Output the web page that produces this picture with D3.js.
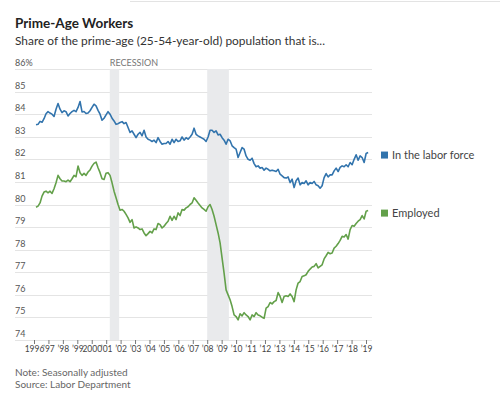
<!DOCTYPE html>
<html><head><meta charset="utf-8">
<script src="https://cdn.jsdelivr.net/npm/d3@7"></script>
<style>
body{margin:0;background:#fff;}
svg{display:block;font-family:Lato,"Noto Sans",sans-serif;}
</style>
</head><body>
<svg id="chart" width="500" height="404"></svg>
<script>
// Readings taken roughly every 1.66 months, Feb 1996 – Jan 2019
const laborForce = [
83.53,83.55,83.68,83.64,83.80,84.02,84.11,84.05,84.00,83.90,
84.22,84.47,84.22,84.07,84.15,84.11,83.92,84.03,84.11,84.17,
84.11,84.30,84.56,84.10,84.12,84.03,84.05,84.15,84.30,84.44,
84.37,84.17,84.00,83.73,83.82,83.97,84.11,84.00,83.82,83.70,
83.55,83.58,83.63,83.67,83.58,83.63,83.41,83.19,83.26,83.11,
82.96,83.11,83.19,83.04,83.29,82.99,82.89,82.85,82.79,82.85,
82.74,82.96,82.79,82.67,82.70,82.70,82.79,82.67,82.89,82.74,
82.89,82.79,82.82,82.99,82.85,82.96,82.89,82.99,83.11,83.38,
83.11,83.04,82.99,82.94,82.89,82.79,82.99,83.29,83.29,83.19,
83.26,83.08,83.11,82.96,82.85,82.67,82.89,82.82,82.60,82.52,
82.45,82.08,82.30,82.52,82.45,82.15,82.00,81.96,82.05,81.81,
81.67,81.71,81.61,81.64,81.52,81.61,81.56,81.49,81.52,81.49,
81.46,81.56,81.34,81.27,81.19,81.17,81.22,80.97,81.12,80.75,
81.05,81.17,80.87,80.97,80.93,81.05,80.87,80.97,80.93,81.02,
80.87,80.83,80.72,80.83,81.19,81.37,81.22,81.31,81.31,81.49,
81.61,81.46,81.64,81.71,81.67,81.76,81.67,81.86,81.76,82.00,
82.20,81.96,82.15,82.08,81.86,82.26,82.30];

const employed = [
79.88,79.93,80.07,80.37,80.55,80.59,80.52,80.59,80.49,80.70,
80.96,81.29,81.14,81.04,81.04,81.01,81.08,81.01,81.14,81.29,
81.23,81.70,81.41,81.29,81.38,81.29,81.44,81.53,81.70,81.82,
81.88,81.63,81.41,81.14,81.11,81.38,81.41,81.29,80.96,80.59,
80.30,80.00,79.75,79.78,79.70,79.56,79.41,79.21,79.33,78.96,
79.01,78.96,78.89,78.92,78.74,78.62,78.71,78.81,78.74,78.92,
78.89,79.16,79.11,78.96,79.04,79.16,79.26,79.48,79.30,79.48,
79.33,79.63,79.51,79.78,79.75,79.85,79.90,80.00,80.07,80.30,
80.19,80.07,79.96,79.85,79.78,79.70,79.90,80.00,79.78,79.48,
79.11,78.74,78.30,77.63,76.96,76.22,76.00,75.78,75.48,75.11,
75.04,74.89,75.16,75.07,75.21,75.11,75.04,74.89,75.11,75.04,
75.21,75.11,75.07,75.01,74.96,75.41,75.48,75.66,75.60,75.70,
75.75,76.10,75.93,75.66,75.93,75.96,75.93,76.04,75.93,75.70,
76.22,76.52,76.59,76.81,76.84,76.89,77.04,77.14,77.23,77.26,
77.38,77.19,77.26,77.33,77.59,77.73,77.88,77.82,77.85,78.07,
78.15,78.27,78.41,78.59,78.56,78.67,78.47,78.89,79.07,79.04,
79.16,79.26,79.33,79.51,79.36,79.70,79.73];

const firstSample = 1996.14;   // decimal year of first reading
const sampleStep = 0.1386;     // years between readings
const sampleYears = laborForce.map((_, i) => firstSample + i * sampleStep);

const yTicks = [74,75,76,77,78,79,80,81,82,83,84,85,86];
const xTicks = [1996,1997,1998,1999,2000,2001,2002,2003,2004,2005,2006,2007,2008,2009,2010,2011,2012,2013,2014,2015,2016,2017,2018,2019];
const recessions = [[2001.25, 2001.9], [2008.0, 2009.5]];
const seriesNames = ["In the labor force", "Employed"];
const seriesColors = ["#3274ad", "#63a04a"];

const svg = d3.select("#chart");
const x = d3.scaleLinear().domain([1996, 2019]).range([34, 366]);
const y = d3.scaleLinear().domain([74, 86]).range([340, 69]);

svg.append("line").attr("x1",130).attr("x2",500).attr("y1",1.5).attr("y2",1.5)
  .attr("stroke","#e3e3e3").attr("stroke-width",1);

svg.append("text").attr("x",15).attr("y",28)
  .attr("font-size",13.5).attr("font-weight",700).attr("fill","#222")
  .text("Prime-Age Workers");
svg.append("text").attr("x",15).attr("y",45)
  .attr("font-size",11.9).attr("fill","#333")
  .text("Share of the prime-age (25-54-year-old) population that is...");

// gridlines
svg.append("g").selectAll("line").data(yTicks).join("line")
  .attr("x1",15).attr("x2",372)
  .attr("y1",d=>Math.round(y(d))+0.5).attr("y2",d=>Math.round(y(d))+0.5)
  .attr("stroke","#e4e4e4").attr("stroke-width",1);

// recession bands
svg.append("g").selectAll("rect").data(recessions).join("rect")
  .attr("x",d=>x(d[0])).attr("width",d=>x(d[1])-x(d[0]))
  .attr("y",y(86)).attr("height",y(74)-y(86))
  .attr("fill","#e9eaec");

svg.append("text").attr("x",x(recessions[0][0])).attr("y",y(86)-3)
  .attr("font-size",9).attr("fill","#777").text("RECESSION");

// y labels
svg.append("g").selectAll("text").data(yTicks).join("text")
  .attr("x",15).attr("y",d=>y(d)-3)
  .attr("font-size",9).attr("fill","#555")
  .text(d=>d===86 ? d+"%" : d);

// x axis
const xAxis = d3.axisBottom(x).tickValues(xTicks).tickSize(4).tickPadding(2)
  .tickFormat(d => (d===1996||d===2000) ? String(d) : "\u2019"+String(d).slice(2));
const gx = svg.append("g").attr("transform","translate(0,340)").call(xAxis);
gx.select(".domain").remove();
gx.selectAll(".tick line").attr("stroke","#777");
gx.selectAll(".tick text").attr("font-size",8.5).attr("fill","#444")
  .attr("font-family","Lato, 'Noto Sans', sans-serif");

// lines
const line = d3.line().x((d,i)=>x(sampleYears[i])).y(d=>y(d)).curve(d3.curveLinear);
[laborForce, employed].forEach((s, j) => {
  svg.append("path").datum(s).attr("d", line)
    .attr("fill","none").attr("stroke",seriesColors[j])
    .attr("stroke-width",1.6).attr("stroke-linejoin","round");
});

// legend
[laborForce, employed].forEach((s, j) => {
  const cy = y(s[s.length-1]) + 2.5;
  svg.append("rect").attr("x",381).attr("y",cy-3.5).attr("width",7).attr("height",7)
    .attr("fill",seriesColors[j]);
  svg.append("text").attr("x",392).attr("y",cy+4)
    .attr("font-size",11).attr("fill","#444").text(seriesNames[j]);
});

// notes
svg.append("text").attr("x",15).attr("y",376).attr("font-size",10).attr("fill","#666")
  .text("Note: Seasonally adjusted");
svg.append("text").attr("x",15).attr("y",388).attr("font-size",10).attr("fill","#666")
  .text("Source: Labor Department");
</script>
</body></html>
